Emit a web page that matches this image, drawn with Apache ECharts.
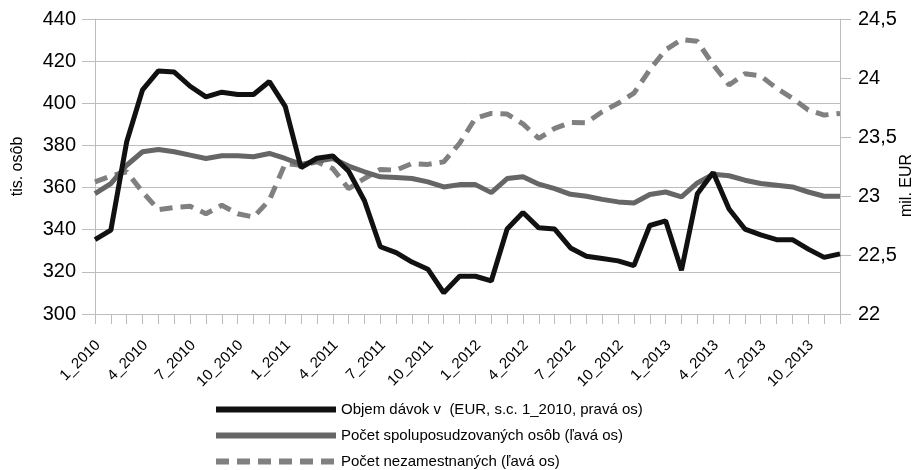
<!DOCTYPE html>
<html>
<head>
<meta charset="utf-8">
<script src="https://cdn.jsdelivr.net/npm/echarts@6/dist/echarts.min.js"></script>
<style>
html,body{margin:0;padding:0;background:#fff;}
#chart{width:913px;height:470px;}
</style>
</head>
<body>
<div id="chart"></div>
<script>
var years = [2010, 2011, 2012, 2013];
var months = [];
years.forEach(function (y) {
    for (var m = 1; m <= 12; m++) months.push(m + '_' + y);
});

// mil. EUR, pravá os
var objem = [22.63, 22.71, 23.46, 23.90, 24.06, 24.05, 23.93, 23.84, 23.88, 23.86, 23.86, 23.97,
    23.76, 23.24, 23.32, 23.34, 23.21, 22.96, 22.57, 22.52, 22.44, 22.38, 22.18, 22.32,
    22.32, 22.28, 22.72, 22.86, 22.73, 22.72, 22.56, 22.49, 22.47, 22.45, 22.41, 22.75,
    22.79, 22.37, 23.02, 23.20, 22.89, 22.72, 22.67, 22.63, 22.63, 22.55, 22.48, 22.51];

// tis. osôb, ľavá os
var spoluposudzovane = [357.1, 361.9, 370.6, 377.0, 378.1, 377.0, 375.4, 373.8, 375.1, 375.1, 374.6, 376.2,
    373.8, 371.0, 372.5, 373.8, 370.2, 367.5, 365.1, 364.8, 364.3, 362.7, 360.3, 361.4,
    361.4, 357.6, 364.3, 365.1, 361.6, 359.5, 356.8, 355.9, 354.4, 353.2, 352.7, 356.7,
    357.9, 355.6, 362.2, 366.3, 365.6, 363.5, 361.9, 361.1, 360.3, 357.9, 355.9, 355.9];

var nezamestnani = [362.7, 365.5, 367.5, 357.9, 349.5, 350.5, 351.1, 347.6, 351.6, 347.6, 346.0, 354.0,
    371.4, 370.6, 372.2, 369.0, 359.5, 364.3, 368.6, 368.3, 371.4, 371.0, 372.2, 381.0,
    392.9, 395.2, 394.9, 390.2, 383.3, 388.1, 390.9, 390.8, 396.0, 400.0, 404.8, 415.9,
    425.4, 430.2, 429.4, 418.3, 408.7, 414.0, 413.0, 407.1, 402.4, 396.8, 394.4, 395.2];

var names = [
    'Objem dávok v  (EUR, s.c. 1_2010, pravá os)',
    'Počet spoluposudzovaných osôb (ľavá os)',
    'Počet nezamestnaných (ľavá os)'
];

var font = 'Liberation Sans';
var gridCol = '#bdbdbd';
var chart = echarts.init(document.getElementById('chart'));

chart.setOption({
    animation: false,
    textStyle: {fontFamily: font},
    grid: {left: 95, right: 73, top: 19, bottom: 156, outerBoundsMode: 'none'},
    legend: {
        orient: 'vertical',
        left: 208,
        top: 397,
        height: 73,
        itemWidth: 120,
        itemHeight: 10,
        itemGap: 11,
        lineStyle: {width: 6},
        itemStyle: {opacity: 0},
        textStyle: {fontFamily: font, fontSize: 15, color: '#000'},
        data: names
    },
    xAxis: {
        type: 'category',
        data: months,
        boundaryGap: false,
        axisLine: {lineStyle: {color: gridCol, width: 1}},
        axisTick: {interval: 0, length: 10, lineStyle: {color: gridCol}},
        axisLabel: {show: false}
    },
    yAxis: [{
        type: 'value',
        min: 300, max: 440, interval: 20,
        name: 'tis. osôb',
        nameLocation: 'middle',
        nameRotate: 90,
        nameGap: 69,
        nameMoveOverlap: false,
        nameTextStyle: {fontSize: 16, color: '#000', fontFamily: font},
        axisLine: {show: true, lineStyle: {color: gridCol}},
        axisTick: {show: true, length: 13, lineStyle: {color: gridCol}},
        axisLabel: {fontSize: 20, color: '#000', fontFamily: font, margin: 19},
        splitLine: {lineStyle: {color: gridCol, width: 1}}
    }, {
        type: 'value',
        min: 22, max: 24.5, interval: 0.5,
        name: 'mil. EUR',
        nameLocation: 'middle',
        nameRotate: 90,
        nameGap: 59,
        nameMoveOverlap: false,
        nameTextStyle: {fontSize: 16, color: '#000', fontFamily: font, padding: [0, 38, 0, 0]},
        axisLine: {show: true, lineStyle: {color: gridCol}},
        axisTick: {show: true, length: 11, lineStyle: {color: gridCol}},
        axisLabel: {
            fontSize: 20, color: '#000', fontFamily: font, margin: 18,
            formatter: function (v) { return String(v).replace('.', ','); }
        },
        splitLine: {show: false}
    }],
    series: [{
        name: names[0],
        type: 'line',
        yAxisIndex: 1,
        data: objem,
        symbol: 'none',
        z: 3,
        lineStyle: {color: '#111', width: 5},
        itemStyle: {color: '#111'}
    }, {
        name: names[1],
        type: 'line',
        data: spoluposudzovane,
        symbol: 'none',
        z: 2,
        lineStyle: {color: '#666', width: 5},
        itemStyle: {color: '#666'}
    }, {
        name: names[2],
        type: 'line',
        data: nezamestnani,
        symbol: 'none',
        z: 1,
        lineStyle: {color: '#808080', width: 5, type: [13, 8]},
        itemStyle: {color: '#808080'}
    }]
});

// slanted month labels, placed from the category axis scale
var labels = [];
months.forEach(function (m, i) {
    if (i % 3 !== 0) return;
    var p = chart.convertToPixel({xAxisIndex: 0, yAxisIndex: 0}, [i, 300]);
    labels.push({
        type: 'text',
        x: p[0] + 3,
        y: p[1] + 29,
        rotation: Math.PI / 4,
        style: {
            text: m,
            font: '15px "Liberation Sans"',
            fill: '#000',
            align: 'right',
            verticalAlign: 'middle'
        }
    });
});
chart.setOption({graphic: labels});
</script>
</body>
</html>
